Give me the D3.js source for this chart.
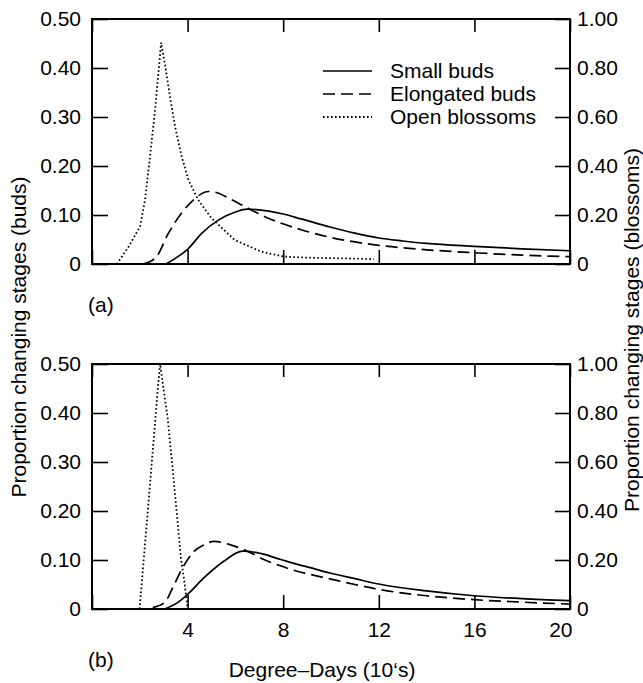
<!DOCTYPE html>
<html>
<head>
<meta charset="utf-8">
<script src="https://cdn.jsdelivr.net/npm/d3@7"></script>
<style>
  body { margin: 0; background: #fff; }
  svg { font-family: "Liberation Sans", Arial, sans-serif; }
</style>
</head>
<body>
<svg id="chart" width="643" height="683"></svg>
<script>
const xTicks = [0, 4, 8, 12, 16, 20];
const budTicks = [0, 0.1, 0.2, 0.3, 0.4, 0.5];
const blossomTicks = [0, 0.2, 0.4, 0.6, 0.8, 1.0];
const seriesNames = ["Small buds", "Elongated buds", "Open blossoms"];

// panel (a): [degree-days (10's), proportion]; buds on left axis, blossoms on right axis
const smallBudsA = [[3.1, 0], [3.5, 0.012], [4, 0.03], [4.6, 0.063], [5.3, 0.09], [6, 0.106], [6.5, 0.112],
  [7.4, 0.108], [8, 0.102], [8.75, 0.092], [10, 0.075], [11, 0.063], [12, 0.053], [13, 0.047], [14, 0.042],
  [16, 0.036], [18, 0.031], [20, 0.027]];
const elongBudsA = [[2.15, 0], [2.7, 0.015], [3.2, 0.063], [3.75, 0.104], [4.25, 0.131], [4.87, 0.148],
  [5.2, 0.146], [5.7, 0.135], [6.4, 0.117], [7.4, 0.093], [8.75, 0.07], [10, 0.054], [11, 0.045], [12, 0.038],
  [14, 0.029], [16, 0.023], [18, 0.018], [20, 0.015]];
const openBlossomsA = [[1.04, 0], [1.53, 0.07], [2.01, 0.153], [2.22, 0.262], [2.43, 0.44], [2.64, 0.63],
  [2.78, 0.78], [2.89, 0.904], [3.06, 0.81], [3.26, 0.686], [3.47, 0.563], [3.75, 0.44], [4.03, 0.344],
  [4.44, 0.262], [5.0, 0.187], [5.97, 0.098], [7.08, 0.05], [8.05, 0.03], [9, 0.026], [10, 0.024],
  [11, 0.022], [11.8, 0.02]];

// panel (b)
const smallBudsB = [[3.03, 0], [3.58, 0.013], [4.0, 0.03], [4.69, 0.064], [5.53, 0.098], [6.3, 0.118],
  [6.9, 0.115], [7.9, 0.101], [8.6, 0.091], [9, 0.086], [10, 0.073], [11, 0.062], [12, 0.051], [14, 0.037],
  [16, 0.027], [18, 0.021], [20, 0.017]];
const elongBudsB = [[2.54, 0.003], [3.03, 0.013], [3.44, 0.05], [3.79, 0.084], [4.28, 0.118], [4.69, 0.131],
  [5.1, 0.138], [5.8, 0.131], [6.5, 0.118], [7.19, 0.101], [7.9, 0.088], [8.58, 0.077], [9, 0.072],
  [10, 0.061], [11, 0.05], [12, 0.04], [14, 0.027], [16, 0.019], [18, 0.014], [20, 0.01]];
const openBlossomsB = [[1.99, 0], [2.42, 0.5], [2.78, 0.93], [2.85, 1.0], [2.92, 0.95], [3.17, 0.775],
  [3.44, 0.505], [3.72, 0.209], [3.86, 0.115], [4.0, 0]];

const svg = d3.select("#chart");
const left = 92, right = 570;
const x = d3.scaleLinear().domain([0, 20]).range([left, right]);

const panels = [
  { tag: "(a)", top: 19, bottom: 264, small: smallBudsA, elong: elongBudsA, open: openBlossomsA, xLabels: false, tagY: 305 },
  { tag: "(b)", top: 364, bottom: 609, small: smallBudsB, elong: elongBudsB, open: openBlossomsB, xLabels: true, tagY: 660 }
];

const fmt = d => d === 0 ? "0" : d3.format(".2f")(d);
const styles = [
  { dash: null, width: 1.7 },
  { dash: "12,6", width: 1.7 },
  { dash: "1.6,2.4", width: 1.8 }
];

panels.forEach(p => {
  const yBuds = d3.scaleLinear().domain([0, 0.5]).range([p.bottom, p.top]);
  const yBloss = d3.scaleLinear().domain([0, 1]).range([p.bottom, p.top]);
  const g = svg.append("g");

  const axL = g.append("g").attr("transform", `translate(${left},0)`)
    .call(d3.axisLeft(yBuds).tickValues(budTicks).tickFormat(fmt).tickSize(-16).tickPadding(11));
  const axR = g.append("g").attr("transform", `translate(${right},0)`)
    .call(d3.axisRight(yBloss).tickValues(blossomTicks).tickFormat(fmt).tickSize(-15).tickPadding(7));
  const axT = g.append("g").attr("transform", `translate(0,${p.top})`)
    .call(d3.axisTop(x).tickValues(xTicks).tickFormat("").tickSize(-13));
  const axB = g.append("g").attr("transform", `translate(0,${p.bottom})`)
    .call(d3.axisBottom(x).tickValues(xTicks).tickSize(-14).tickPadding(13)
      .tickFormat(d => p.xLabels && d > 0 ? d : ""));

  [axL, axR, axT, axB].forEach(a => {
    a.select(".domain").remove();
    a.selectAll("line").attr("stroke", "#000").attr("stroke-width", 1.6);
    a.selectAll("text").attr("font-size", 21).attr("font-family", "'Liberation Sans', Arial, sans-serif").attr("fill", "#000");
  });
  axB.selectAll(".tick text").filter(d => d === 20).attr("text-anchor", "end").attr("dx", 2);

  g.append("rect")
    .attr("x", left).attr("y", p.top)
    .attr("width", right - left).attr("height", p.bottom - p.top)
    .attr("fill", "none").attr("stroke", "#000").attr("stroke-width", 2);

  const budLine = d3.line().x(d => x(d[0])).y(d => yBuds(d[1])).curve(d3.curveMonotoneX);
  const blossLine = d3.line().x(d => x(d[0])).y(d => yBloss(d[1])).curve(d3.curveLinear);

  [[p.small, budLine], [p.elong, budLine], [p.open, blossLine]].forEach(([data, gen], i) => {
    g.append("path").datum(data)
      .attr("d", gen)
      .attr("fill", "none")
      .attr("stroke", "#000")
      .attr("stroke-width", styles[i].width)
      .attr("stroke-dasharray", styles[i].dash);
  });

  g.append("text").attr("x", 88).attr("y", p.tagY).attr("dy", "0.35em")
    .attr("font-size", 21).text(p.tag);
});

// legend in panel (a)
const legend = svg.append("g");
seriesNames.forEach((name, i) => {
  const ly = 71 + i * 23;
  legend.append("line").attr("x1", 323).attr("x2", 372).attr("y1", ly).attr("y2", ly)
    .attr("stroke", "#000").attr("stroke-width", styles[i].width)
    .attr("stroke-dasharray", styles[i].dash);
  legend.append("text").attr("x", 390).attr("y", ly).attr("dy", "0.35em")
    .attr("font-size", 21).text(name);
});

// axis titles
svg.append("text")
  .attr("transform", "translate(19,337) rotate(-90)")
  .attr("text-anchor", "middle").attr("dy", "0.35em")
  .attr("font-size", 21)
  .text("Proportion changing stages (buds)");
svg.append("text")
  .attr("transform", "translate(632,330) rotate(-90)")
  .attr("text-anchor", "middle").attr("dy", "0.35em")
  .attr("font-size", 21)
  .text("Proportion changing stages (blossoms)");
svg.append("text")
  .attr("x", 322).attr("y", 677)
  .attr("text-anchor", "middle")
  .attr("font-size", 21)
  .text("Degree\u2013Days (10\u2018s)");
</script>
</body>
</html>
